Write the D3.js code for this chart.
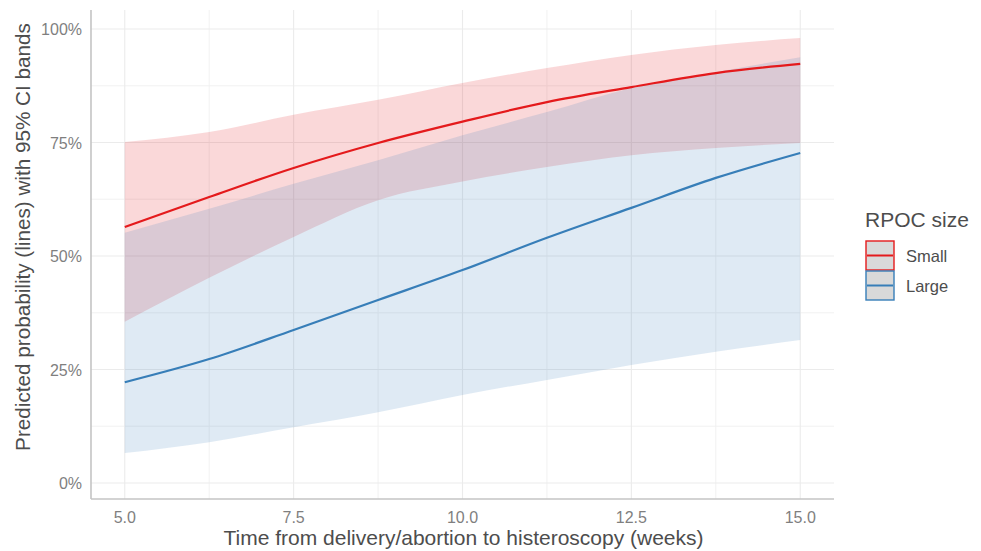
<!DOCTYPE html>
<html>
<head>
<meta charset="utf-8"/>
<title>Predicted probability by RPOC size</title>
<script src="https://d3js.org/d3.v7.min.js"></script>
<style>
    body { margin: 0; background: #fff; }
    .grid-major { stroke: #ebebeb; stroke-width: 1.1; }
    .grid-minor { stroke: #efefef; stroke-width: 0.9; }
    .tick-label { font-family: "Liberation Sans", Arial, sans-serif; font-size: 16px; fill: #7f7f7f; }
    .axis-title { font-family: "Liberation Sans", Arial, sans-serif; font-size: 21px; fill: #4d4d4d; }
</style>
</head>
<body>
<svg id="chart" width="981" height="551"></svg>
<script>
// values, at every grid line of the x axis
var weeks      = [5, 6.25, 7.5, 8.75, 10, 11.25, 12.5, 13.75, 15];
var smallFit   = [0.564, 0.630, 0.694, 0.749, 0.796, 0.839, 0.872, 0.903, 0.923];
var smallUpper = [0.751, 0.773, 0.811, 0.844, 0.881, 0.914, 0.943, 0.965, 0.980];
var smallLower = [0.355, 0.452, 0.542, 0.623, 0.664, 0.696, 0.722, 0.738, 0.749];
var largeFit   = [0.222, 0.273, 0.337, 0.403, 0.469, 0.540, 0.606, 0.672, 0.727];
var largeUpper = [0.551, 0.604, 0.659, 0.711, 0.766, 0.817, 0.870, 0.905, 0.938];
var largeLower = [0.066, 0.090, 0.123, 0.156, 0.194, 0.227, 0.260, 0.289, 0.315];

var groups = ["Small", "Large"];
var xTicks = [5, 7.5, 10, 12.5, 15];
var yTicks = [0, 0.25, 0.5, 0.75, 1];

var colors = { Small: "#e41a1c", Large: "#377eb8" };

var svg = d3.select("#chart");

var panel = { left: 91, right: 834, top: 10, bottom: 499 };

var x = d3.scaleLinear().domain([4.5, 15.5]).range([panel.left, panel.right]);
var y = d3.scaleLinear().domain([0, 1]).range([483, 29]);

// grid
var g = svg.append("g");
var xMinor = xTicks.slice(0, -1).map(function(d){ return d + 1.25; });
var yMinor = yTicks.slice(0, -1).map(function(d){ return d + 0.125; });

g.selectAll(".vminor").data(xMinor).enter().append("line")
    .attr("class", "grid-minor")
    .attr("x1", function(d){ return x(d); }).attr("x2", function(d){ return x(d); })
    .attr("y1", panel.top).attr("y2", panel.bottom);
g.selectAll(".hminor").data(yMinor).enter().append("line")
    .attr("class", "grid-minor")
    .attr("y1", function(d){ return y(d); }).attr("y2", function(d){ return y(d); })
    .attr("x1", panel.left).attr("x2", panel.right);
g.selectAll(".vmajor").data(xTicks).enter().append("line")
    .attr("class", "grid-major")
    .attr("x1", function(d){ return x(d); }).attr("x2", function(d){ return x(d); })
    .attr("y1", panel.top).attr("y2", panel.bottom);
g.selectAll(".hmajor").data(yTicks).enter().append("line")
    .attr("class", "grid-major")
    .attr("y1", function(d){ return y(d); }).attr("y2", function(d){ return y(d); })
    .attr("x1", panel.left).attr("x2", panel.right);

// bands and lines
var series = {
    Small: weeks.map(function(w, i){ return { w: w, fit: smallFit[i], lo: smallLower[i], hi: smallUpper[i] }; }),
    Large: weeks.map(function(w, i){ return { w: w, fit: largeFit[i], lo: largeLower[i], hi: largeUpper[i] }; })
};

var area = d3.area()
    .x(function(d){ return x(d.w); })
    .y0(function(d){ return y(d.lo); })
    .y1(function(d){ return y(d.hi); })
    .curve(d3.curveMonotoneX);

var line = d3.line()
    .x(function(d){ return x(d.w); })
    .y(function(d){ return y(d.fit); })
    .curve(d3.curveMonotoneX);

groups.forEach(function(k){
    svg.append("path")
        .attr("d", area(series[k]))
        .attr("fill", colors[k])
        .attr("fill-opacity", k == "Small" ? 0.17 : 0.16);
});
groups.slice().reverse().forEach(function(k){
    svg.append("path")
        .attr("d", line(series[k]))
        .attr("fill", "none")
        .attr("stroke", colors[k])
        .attr("stroke-width", 2.2);
});

// axis lines
svg.append("line").attr("x1", panel.left).attr("x2", panel.left)
    .attr("y1", panel.top).attr("y2", panel.bottom)
    .attr("stroke", "#c4c4c4").attr("stroke-width", 1.6);
svg.append("line").attr("x1", panel.left).attr("x2", panel.right)
    .attr("y1", panel.bottom).attr("y2", panel.bottom)
    .attr("stroke", "#c4c4c4").attr("stroke-width", 1.6);

// tick labels
svg.selectAll(".xlab").data(xTicks).enter().append("text")
    .attr("class", "tick-label")
    .attr("x", function(d){ return x(d); })
    .attr("y", 523)
    .attr("text-anchor", "middle")
    .text(d3.format(".1f"));
svg.selectAll(".ylab").data(yTicks).enter().append("text")
    .attr("class", "tick-label")
    .attr("x", 82)
    .attr("y", function(d){ return y(d) + 6; })
    .attr("text-anchor", "end")
    .text(d3.format(".0%"));

// axis titles
svg.append("text").attr("class", "axis-title")
    .attr("x", (panel.left + panel.right) / 2 + 1)
    .attr("y", 545)
    .attr("text-anchor", "middle")
    .text("Time from delivery/abortion to histeroscopy (weeks)");
svg.append("text").attr("class", "axis-title")
    .attr("transform", "translate(30,237) rotate(-90)")
    .attr("text-anchor", "middle")
    .style("font-size", "20.7px")
    .text("Predicted probability (lines) with 95% CI bands");

// legend
var legend = svg.append("g").attr("transform", "translate(865,0)");
legend.append("text").attr("class", "axis-title")
    .attr("x", 0).attr("y", 227)
    .text("RPOC size");
groups.forEach(function(k, i){
    var top = 241 + i * 30;
    legend.append("rect")
        .attr("x", 1).attr("y", top)
        .attr("width", 28).attr("height", 29)
        .attr("fill", "#d9d9d9")
        .attr("stroke", colors[k]).attr("stroke-width", 1.4);
    legend.append("line")
        .attr("x1", 2).attr("x2", 28)
        .attr("y1", top + 14.5).attr("y2", top + 14.5)
        .attr("stroke", colors[k]).attr("stroke-width", 2);
    legend.append("text")
        .attr("x", 41).attr("y", top + 21)
        .style("font-family", "Liberation Sans, Arial, sans-serif")
        .style("font-size", "16.5px")
        .style("fill", "#4d4d4d")
        .text(k);
});
</script>
</body>
</html>
